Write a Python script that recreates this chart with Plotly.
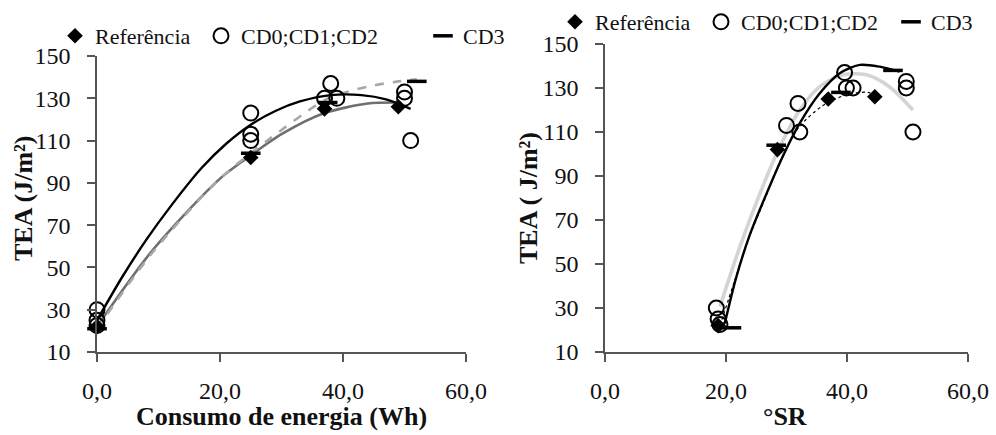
import plotly.graph_objects as go

# ---------------- data ----------------
# Referência
ref_energy = [0.0, 25.0, 37.0, 49.0]
ref_sr = [18.7, 28.5, 36.9, 44.6]
ref_tea = [22, 102, 125, 126]

# CD0;CD1;CD2
cd_energy = [0.0, 0.0, 0.0, 25.0, 25.0, 25.0, 38.0, 37.0, 39.0, 50.0, 50.0, 51.0]
cd_sr = [18.4, 18.7, 19.0, 31.9, 30.0, 32.2, 39.6, 39.9, 41.0, 49.8, 49.8, 50.9]
cd_tea = [30, 25, 22.5, 123, 113, 110, 137, 130, 130, 133, 130, 110]

# CD3
cd3_energy = [0.0, 25.0, 37.5, 52.0]
cd3_sr = [20.9, 28.3, 39.0, 47.6]
cd3_tea = [21, 104, 128, 138]

# trend lines, left panel (Consumo de energia)
fit_cd_energy = [0, 4, 8, 12, 17, 21, 25, 29, 33, 38, 43, 47, 51]
fit_cd_tea_e = [25, 45, 63, 79, 97, 108.5, 117.5, 124, 128.5, 131.5, 131.5, 129.5, 125]
fit_ref_energy = [0, 9, 20, 25, 30, 37, 44, 49]
fit_ref_tea_e = [22, 58, 92, 103, 113, 123, 127.5, 128]
fit_cd3_energy = [0, 9, 20, 27.7, 35.8, 38.4, 44, 49, 52]
fit_cd3_tea_e = [21, 57, 92, 110, 127, 131, 135.5, 138, 139]

# trend lines, right panel (°SR)
fit_cd3_sr = [19.8, 21.7, 23.9, 26.7, 29.4, 32.2, 35.5, 38.8, 42.1, 45.4, 48.7]
fit_cd3_tea_s = [23, 44, 63, 82, 99, 114, 127.6, 136.7, 140.5, 139.7, 137.4]
fit_cd_sr = [19.0, 22.3, 25.6, 28.9, 32.2, 35.5, 39.3, 43.2, 47.0, 50.9]
fit_cd_tea_s = [30.6, 57.9, 82, 103.3, 120, 130.6, 136, 136, 130.6, 120]
fit_ref_sr = [19.0, 21.5, 23.8, 26.5, 29.0, 32.0, 36.0, 40.0, 43.4, 45.0]
fit_ref_tea_s = [22, 43, 62, 80, 97, 112, 122, 127, 128, 126]

x_ticks = [0, 20, 40, 60]
x_ticktext = ["0,0", "20,0", "40,0", "60,0"]
y_ticks = [10, 30, 50, 70, 90, 110, 130, 150]

series_names = ["Referência", "CD0;CD1;CD2", "CD3"]

# ---------------- figure ----------------
W, H = 996, 435
SERIF = "Liberation Serif, Times New Roman, serif"

fig = go.Figure()

def line(x, y, xa, ya, color, width, dash="solid"):
    fig.add_trace(go.Scatter(x=x, y=y, xaxis=xa, yaxis=ya, mode="lines",
                             line=dict(color=color, width=width, dash=dash, shape="spline", smoothing=0.8),
                             showlegend=False, hoverinfo="skip", cliponaxis=False))

# left panel lines
line(fit_ref_energy, fit_ref_tea_e, "x", "y", "#6f6f6f", 2.6)
line(fit_cd3_energy, fit_cd3_tea_e, "x", "y", "#a8a8a8", 2.6, "dash")
line(fit_cd_energy, fit_cd_tea_e, "x", "y", "#000000", 2.4)
# right panel lines
line(fit_cd_sr, fit_cd_tea_s, "x2", "y2", "#d4d4d4", 3.6)
line(fit_ref_sr, fit_ref_tea_s, "x2", "y2", "#000000", 1.2, "dot")
line(fit_cd3_sr, fit_cd3_tea_s, "x2", "y2", "#000000", 2.4)

marker_styles = [
    dict(symbol="diamond", size=12, color="#000000", line=dict(width=0)),
    dict(symbol="circle-open", size=15, color="#000000", line=dict(width=2)),
    dict(symbol="line-ew", size=14, color="#000000", line=dict(width=3.5, color="#000000")),
]

panels = [
    ("x", "y", [ref_energy, cd_energy, cd3_energy], 1),
    ("x2", "y2", [ref_sr, cd_sr, cd3_sr], 4),
]
tea_sets = [ref_tea, cd_tea, cd3_tea]
for xa, ya, xs, lg0 in panels:
    for i in range(3):
        lgname = "legend" if lg0 + i == 1 else f"legend{lg0 + i}"
        fig.add_trace(go.Scatter(x=xs[i], y=tea_sets[i], xaxis=xa, yaxis=ya, mode="markers",
                                 name=series_names[i], marker=marker_styles[i],
                                 legend=lgname, cliponaxis=False))

axis_common = dict(showgrid=False, zeroline=False, showline=True, linecolor="#555555",
                   linewidth=1.5, ticks="outside", ticklen=8, tickwidth=1.5, tickcolor="#555555",
                   automargin=False,
                   tickfont=dict(family=SERIF, size=24, color="#111111"))

fig.update_layout(
    width=W, height=H,
    margin=dict(l=0, r=0, t=0, b=0),
    paper_bgcolor="white", plot_bgcolor="white",
    font=dict(family=SERIF, color="#111111"),
    xaxis=dict(domain=[97 / W, 466 / W], range=[0, 60], tickvals=x_ticks, ticktext=x_ticktext,
               anchor="y", ticklabelstandoff=8, **axis_common),
    yaxis=dict(domain=[1 - 352 / H, 1 - 56 / H], range=[10, 150], tickvals=y_ticks,
               anchor="x", ticklabelstandoff=12, **axis_common),
    xaxis2=dict(domain=[605 / W, 968 / W], range=[0, 60], tickvals=x_ticks, ticktext=x_ticktext,
                anchor="y2", ticklabelstandoff=8, **axis_common),
    yaxis2=dict(domain=[1 - 352 / H, 1 - 44 / H], range=[10, 150], tickvals=y_ticks,
                anchor="x2", ticklabelstandoff=12, **axis_common),
)

# legends: one per entry so spacing matches the reference
legend_text_x = [97, 243, 465, 597, 743, 933]
legend_y = [36, 36, 36, 22, 22, 22]
for k in range(6):
    key = "legend" if k == 0 else f"legend{k + 1}"
    fig.update_layout({key: dict(x=(legend_text_x[k] - 42) / W, y=1 - legend_y[k] / H,
                                 xanchor="left", yanchor="middle", orientation="h",
                                 bgcolor="rgba(0,0,0,0)", borderwidth=0,
                                 font=dict(family=SERIF, size=22, color="#111111"),
                                 itemwidth=30)})

title_font = dict(family=SERIF, size=26, color="#111111")
annotations = [
    dict(text="<b>Consumo de energia (Wh)</b>", x=281 / W, y=1 - 416 / H),
    dict(text="<b>°SR</b>", x=785 / W, y=1 - 416 / H),
    dict(text="<b>TEA (J/m²)</b>", x=23 / W, y=1 - 198 / H, textangle=-90),
    dict(text="<b>TEA ( J/m²)</b>", x=528 / W, y=1 - 198 / H, textangle=-90),
]
for a in annotations:
    fig.add_annotation(xref="paper", yref="paper", showarrow=False, xanchor="center",
                       yanchor="middle", font=title_font, **a)

fig.write_html("out.html")
